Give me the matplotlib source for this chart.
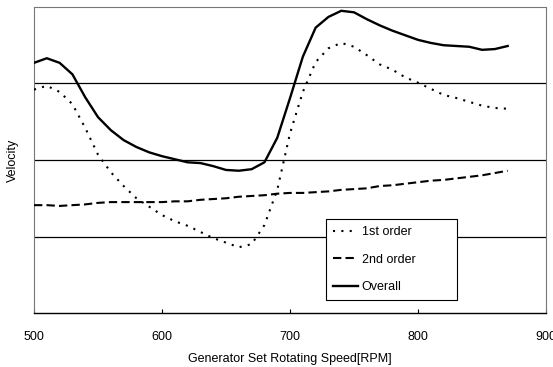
import matplotlib.pyplot as plt

plt.rcParams['font.family'] = ['Liberation Sans', 'DejaVu Sans']

rpm = list(range(500, 880, 10))

overall = [3.27, 3.33, 3.27, 3.12, 2.82, 2.56, 2.39, 2.26, 2.17, 2.10,
           2.05, 2.01, 1.97, 1.96, 1.92, 1.87, 1.86, 1.88, 1.97, 2.29,
           2.81, 3.35, 3.73, 3.87, 3.95, 3.93, 3.84, 3.76, 3.69, 3.63,
           3.57, 3.53, 3.50, 3.49, 3.48, 3.44, 3.45, 3.49]
first_order = [2.92, 2.97, 2.89, 2.73, 2.42, 2.07, 1.84, 1.66, 1.50, 1.39,
               1.28, 1.20, 1.14, 1.06, 0.98, 0.92, 0.86, 0.90, 1.15, 1.61,
               2.35, 2.89, 3.28, 3.46, 3.53, 3.48, 3.37, 3.25, 3.18, 3.08,
               3.01, 2.93, 2.85, 2.81, 2.76, 2.71, 2.68, 2.67]
second_order = [1.41, 1.41, 1.40, 1.41, 1.42, 1.44, 1.45, 1.45, 1.45, 1.45,
                1.45, 1.46, 1.46, 1.48, 1.49, 1.50, 1.52, 1.53, 1.54, 1.56,
                1.57, 1.57, 1.58, 1.59, 1.61, 1.62, 1.63, 1.66, 1.67, 1.69,
                1.71, 1.73, 1.74, 1.76, 1.78, 1.80, 1.83, 1.86]

x_ticks = [500, 600, 700, 800, 900]

fig = plt.figure(figsize=(5.53, 3.67), dpi=100)
ax = fig.add_axes([0.0615, 0.147, 0.926, 0.834])

# horizontal grid lines
for g in [1, 2, 3]:
    ax.axhline(g, color='black', lw=0.9, zorder=1)

ax.plot(rpm, first_order, color='black', lw=1.5, linestyle=(0, (1, 3)), label='1st order', zorder=3)
ax.plot(rpm, second_order, color='black', lw=1.5, linestyle=(0, (4, 2)), label='2nd order', zorder=3)
ax.plot(rpm, overall, color='black', lw=1.7, label='Overall', zorder=3)

ax.set_xlim(500, 900)
ax.set_ylim(0, 4)
ax.set_xticks(x_ticks)
ax.set_yticks([])
ax.tick_params(axis='x', direction='in', length=3, labelsize=9, pad=13)
ax.set_xlabel('Generator Set Rotating Speed[RPM]', fontsize=9, labelpad=7)
ax.set_ylabel('Velocity', fontsize=9, labelpad=11)

for s in ['left', 'top', 'right']:
    ax.spines[s].set_linestyle((0, (1, 1)))
    ax.spines[s].set_color('#777777')
    ax.spines[s].set_linewidth(0.8)
ax.spines['bottom'].set_linewidth(1.0)

leg = ax.legend(loc='lower left', bbox_to_anchor=(0.57, 0.042, 0.256, 0.262), mode='expand',
                borderaxespad=0, fontsize=9, handlelength=2.0, handletextpad=0.3,
                labelspacing=1.25, fancybox=False, framealpha=1, edgecolor='black',
                borderpad=0.55)
leg.get_frame().set_linewidth(0.8)
leg.set_zorder(5)

fig.savefig('out.png', dpi=100)
